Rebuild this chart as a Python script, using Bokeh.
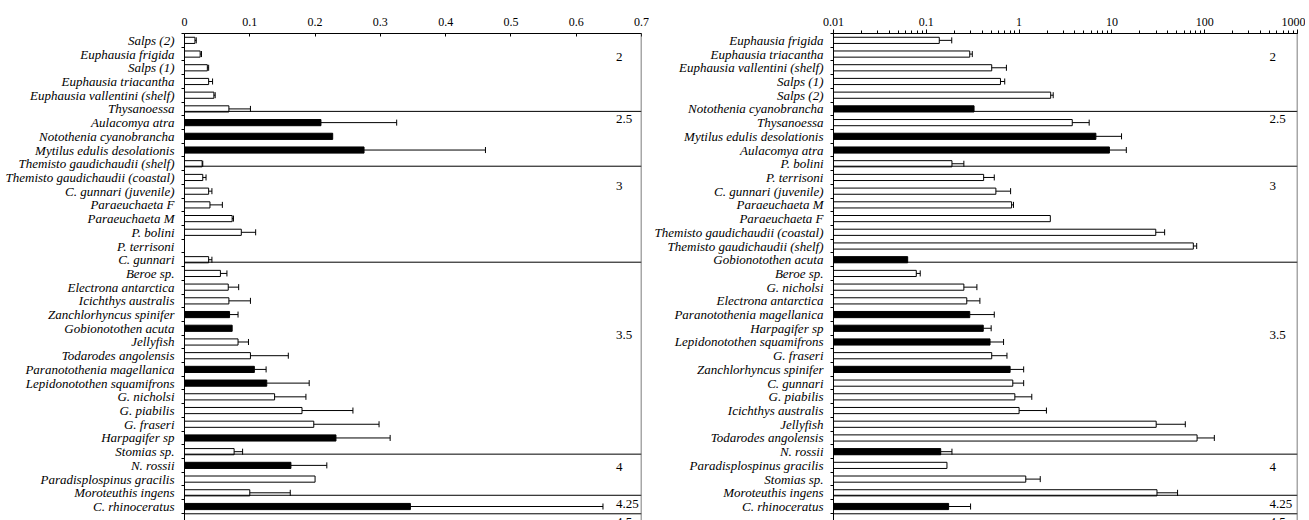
from bokeh.plotting import figure
from bokeh.models import (Range1d, LinearAxis, FixedTicker, Span, NumeralTickFormatter,
                          ColumnDataSource, Arrow)
from bokeh.layouts import row
from bokeh.embed import file_html
from bokeh.resources import INLINE
from bokeh.core.properties import value

# ---------------- data ----------------
group_sizes = [6, 4, 7, 14, 3, 1]
group_labels = ["2", "2.5", "3", "3.5", "4", "4.25", "4.5"]

left_names = [
    "Salps (2)", "Euphausia frigida", "Salps (1)", "Euphausia triacantha",
    "Euphausia vallentini (shelf)", "Thysanoessa",
    "Aulacomya atra", "Notothenia cyanobrancha", "Mytilus edulis desolationis",
    "Themisto gaudichaudii (shelf)",
    "Themisto gaudichaudii (coastal)", "C. gunnari (juvenile)", "Paraeuchaeta F",
    "Paraeuchaeta M", "P. bolini", "P. terrisoni", "C. gunnari",
    "Beroe sp.", "Electrona antarctica", "Icichthys australis", "Zanchlorhyncus spinifer",
    "Gobionotothen acuta", "Jellyfish", "Todarodes angolensis", "Paranotothenia magellanica",
    "Lepidonotothen squamifrons", "G. nicholsi", "G. piabilis", "G. fraseri",
    "Harpagifer sp", "Stomias sp.",
    "N. rossii", "Paradisplospinus gracilis", "Moroteuthis ingens",
    "C. rhinoceratus",
]
left_values = [
    0.016, 0.024, 0.035, 0.037, 0.045, 0.068,
    0.209, 0.227, 0.275, 0.027,
    0.028, 0.037, 0.039, 0.073, 0.087, None, 0.037,
    0.055, 0.067, 0.068, 0.069, 0.073, 0.082, 0.101, 0.107,
    0.126, 0.138, 0.180, 0.198, 0.232, 0.076,
    0.163, 0.200, 0.100,
    0.346,
]
left_upper = [
    0.018, 0.026, 0.037, 0.043, 0.047, 0.101,
    0.325, None, 0.461, 0.028,
    0.033, 0.042, 0.058, 0.075, 0.109, None, 0.042,
    0.065, 0.083, 0.101, 0.082, None, 0.098, 0.159, 0.125,
    0.191, 0.186, 0.258, 0.298, 0.315, 0.089,
    0.218, None, 0.162,
    0.641,
]
left_filled = [
    0, 0, 0, 0, 0, 0,
    1, 1, 1, 0,
    0, 0, 0, 0, 0, 0, 0,
    0, 0, 0, 1, 1, 0, 0, 1,
    1, 0, 0, 0, 1, 0,
    1, 0, 0,
    1,
]
left_ticks = [0, 0.1, 0.2, 0.3, 0.4, 0.5, 0.6, 0.7]

right_names = [
    "Euphausia frigida", "Euphausia triacantha", "Euphausia vallentini (shelf)",
    "Salps (1)", "Salps (2)", "Notothenia cyanobrancha",
    "Thysanoessa", "Mytilus edulis desolationis", "Aulacomya atra", "P. bolini",
    "P. terrisoni", "C. gunnari (juvenile)", "Paraeuchaeta M", "Paraeuchaeta F",
    "Themisto gaudichaudii (coastal)", "Themisto gaudichaudii (shelf)", "Gobionotothen acuta",
    "Beroe sp.", "G. nicholsi", "Electrona antarctica", "Paranotothenia magellanica",
    "Harpagifer sp", "Lepidonotothen squamifrons", "G. fraseri", "Zanchlorhyncus spinifer",
    "C. gunnari", "G. piabilis", "Icichthys australis", "Jellyfish",
    "Todarodes angolensis", "N. rossii",
    "Paradisplospinus gracilis", "Stomias sp.", "Moroteuthis ingens",
    "C. rhinoceratus",
]
right_values = [
    0.138, 0.294, 0.507, 0.63, 2.19, 0.327,
    3.74, 6.72, 9.4, 0.189,
    0.415, 0.562, 0.83, 2.17, 29.7, 75.4, 0.063,
    0.078, 0.254, 0.273, 0.294, 0.411, 0.486, 0.507, 0.80,
    0.855, 0.90, 1.0, 30.0, 82.8, 0.143,
    0.167, 1.18, 30.6,
    0.174,
]
right_upper = [
    0.188, 0.313, 0.73, 0.70, 2.33, None,
    5.69, 12.7, 14.3, 0.254,
    0.54, 0.81, 0.87, None, 37.0, 82.0, None,
    0.086, 0.351, 0.378, 0.54, 0.50, 0.68, 0.74, 1.12,
    1.12, 1.37, 1.97, 61.8, 127.0, 0.189,
    None, 1.69, 51.0,
    0.30,
]
right_filled = [
    0, 0, 0, 0, 0, 1,
    0, 1, 1, 0,
    0, 0, 0, 0, 0, 0, 1,
    0, 0, 0, 1, 1, 1, 0, 1,
    0, 0, 0, 0, 0, 1,
    0, 0, 0,
    1,
]

# ---------------- styling / layout constants ----------------
FONT = "Liberation Serif"
FIG_H = 520
Y_TOP = -0.5
Y_BOTTOM = 35.02
BAR_H = 0.45
CAP = 0.22
label_y = [1.2, 5.75, 10.6, 21.5, 31.1, 33.8, 35.15]


def nan(v):
    return float("nan") if v is None else v


def build(names, vals, upper, filled, x_type, x_range, label_x, dash_x, width,
          min_left, min_right, tick_in, tick_out):
    n = len(names)
    ys = list(range(n))
    src = ColumnDataSource(dict(
        y=ys,
        val=[nan(v) for v in vals],
        hi=[nan(u) for u in upper],
        y0=[y - CAP for y in ys],
        y1=[y + CAP for y in ys],
        fill=["#000000" if f else "#ffffff" for f in filled],
    ))
    p = figure(width=width, height=FIG_H, x_axis_type=x_type, x_range=x_range,
               y_range=Range1d(Y_BOTTOM, Y_TOP), x_axis_location="above",
               y_axis_location=None, toolbar_location=None, output_backend="svg",
               min_border_left=min_left, min_border_right=min_right,
               min_border_top=33, min_border_bottom=0)
    p.outline_line_color = None
    p.background_fill_color = "white"
    p.border_fill_color = "white"
    for g in p.grid:
        g.visible = False

    # bars and error bars
    p.hbar(y="y", left=x_range.start, right="val", height=BAR_H, fill_color="fill",
           line_color="black", line_width=1, source=src)
    p.segment(x0="val", y0="y", x1="hi", y1="y", line_color="black", line_width=1, source=src)
    p.segment(x0="hi", y0="y0", x1="hi", y1="y1", line_color="black", line_width=1, source=src)

    # group separators (reaching a little to the left of the axis, to the labels)
    seps = []
    end = -1
    for k, s in enumerate(group_sizes):
        end += s
        seps.append(end + (0.53 if k == len(group_sizes) - 1 else 0.18))
    for s in seps:
        p.add_layout(Arrow(x_start=dash_x, y_start=s, x_end=x_range.end, y_end=s,
                           start=None, end=None, line_color="black", line_width=1))

    # right border of the plot area
    p.add_layout(Span(location=x_range.end, dimension="height",
                      line_color="#505050", line_width=1.5))

    # trophic-level labels
    p.text(x=[label_x] * len(group_labels), y=label_y, text=group_labels,
           text_font=value(FONT), text_font_size="13px", text_color="black",
           text_align="left", text_baseline="middle")

    # top axis
    ax = p.xaxis[0]
    ax.major_label_text_font = FONT
    ax.major_label_text_font_size = "12px"
    ax.major_label_text_color = "black"
    ax.axis_line_color = "black"
    ax.major_tick_line_color = "black"
    ax.major_tick_in = tick_in
    ax.major_tick_out = tick_out
    ax.major_label_standoff = 4 if tick_out else 8

    # left axis: category labels, boundary ticks
    name_axis = LinearAxis(
        ticker=FixedTicker(ticks=ys, minor_ticks=[i - 0.5 for i in range(n + 1)]),
        major_label_overrides={i: names[i] for i in ys},
        major_tick_out=0, major_tick_in=0, minor_tick_out=3, minor_tick_in=0,
        axis_line_color="black", major_tick_line_color=None,
        minor_tick_line_color="black", major_label_standoff=7,
        major_label_text_font=FONT, major_label_text_font_style="italic",
        major_label_text_font_size="13px", major_label_text_color="black")
    p.add_layout(name_axis, "left")
    return p


left = build(left_names, left_values, left_upper, left_filled, "linear",
             Range1d(0, 0.7), 0.661, -0.012, 649, 184, 8, 3, 0)
left.xaxis[0].ticker = FixedTicker(ticks=left_ticks)
left.xaxis[0].formatter = NumeralTickFormatter(format="0.[0]")
left.xaxis[0].minor_tick_line_color = None

right = build(right_names, right_values, right_upper, right_filled, "log",
              Range1d(0.01, 1000), 500, 0.0082, 656, 184, 8, 0, 4)
right.xaxis[0].formatter = NumeralTickFormatter(format="0.[00]")
right.xaxis[0].minor_tick_out = 3
right.xaxis[0].minor_tick_in = 0
right.xaxis[0].minor_tick_line_color = "black"

layout = row(left, right)
open("out.html", "w").write(file_html(layout, INLINE))
